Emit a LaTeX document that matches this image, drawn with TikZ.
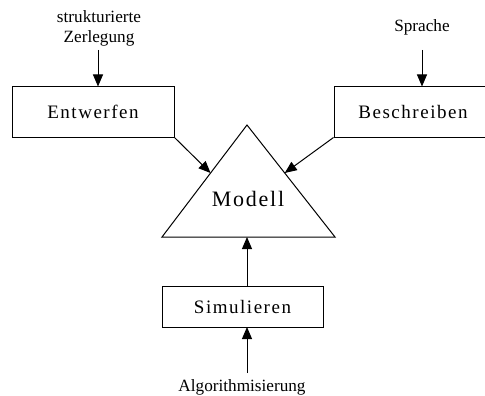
\documentclass[tikz,border=0pt]{standalone}
\usepackage{fontspec}
\setmainfont{Liberation Serif}
\newfontfamily\spacedfont[LetterSpace=8]{Liberation Serif}
\usetikzlibrary{arrows.meta,calc}
\begin{document}
\begin{tikzpicture}[x=1pt,y=-1pt,line width=1pt,
  box/.style={draw,rectangle,inner sep=0pt,font=\spacedfont\fontsize{19}{22}\selectfont},
  note/.style={inner sep=0pt,anchor=base,font=\fontsize{17.2}{20}\selectfont},
  arr/.style={-{Triangle[width=10pt,length=12pt]}}]
\useasboundingbox (0,0) rectangle (485,396);

% boxes
\node[box,minimum width=162pt,minimum height=50pt] (entw) at (93,112) {Entwerfen};
\node[box,minimum width=158pt,minimum height=50pt] (beschr) at (413,112) {Beschreiben};
\node[box,minimum width=161pt,minimum height=41pt] (sim) at (242.5,306.5) {Simulieren};

% triangle for the model
\coordinate (apex) at (247,125);
\coordinate (bl) at (162,237);
\coordinate (br) at (335,237);
\draw (apex) -- (bl) -- (br) -- cycle;
\node[inner sep=0pt,anchor=base,font=\spacedfont\fontsize{22}{26}\selectfont] (modell) at (248,206) {Modell};

% input labels
\node[note] (zerl1) at (99,23) {strukturierte};
\node[note] (zerl2) at (99,43) {Zerlegung};
\node[note] (spr) at (422,32) {Sprache};
\node[note] (algo) at (242,391) {Algorithmisierung};

% arrow end points
\coordinate (zerlend) at (98,50);
\coordinate (sprend) at (422,50);
\coordinate (algoend) at (247,373);
\coordinate (inl) at ($(apex)!0.4286!(bl)$);
\coordinate (inr) at ($(apex)!0.4286!(br)$);
\coordinate (basemid) at (247,237);
\coordinate (simtop) at (247,286);
\coordinate (simbot) at (247,327);

% connectors
\draw[arr] (zerlend) -- (entw.north -| zerlend);
\draw[arr] (sprend) -- (beschr.north -| sprend);
\draw[arr] (entw.south east) -- (inl);
\draw[arr] (beschr.south west) -- (inr);
\draw[arr] (simtop) -- (basemid);
\draw[arr] (algoend) -- (simbot);
\end{tikzpicture}
\end{document}
